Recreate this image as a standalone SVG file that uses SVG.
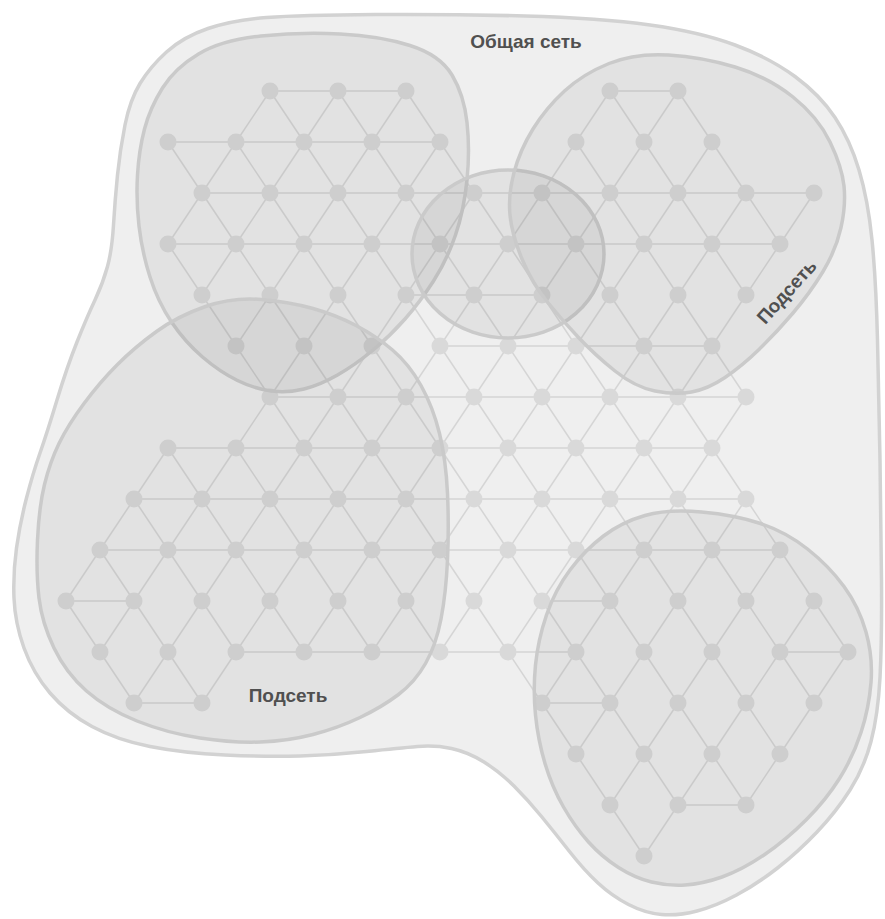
<svg xmlns="http://www.w3.org/2000/svg" width="885" height="919" viewBox="0 0 885 919">
<style>
.outer{fill:#efefef;stroke:#d2d2d2;stroke-width:3.5}
.sub{fill:#474747;fill-opacity:0.08;stroke:#cacaca;stroke-width:3.5}
.edge{fill:none;stroke:#d5d5d5;stroke-width:1.5;stroke-linejoin:round}
.dot{fill:#d9d9d9}
.lbl{font-family:"Liberation Sans",Arial,sans-serif;font-weight:700;font-size:19px;fill:#505050}
</style>
<rect width="885" height="919" fill="#ffffff"/>
<g id="general-network">
<path class="outer" d="M266.5 17.5Q300 15 375 14.5Q450 14 525 16Q600 18 650 25Q700 32 735 45Q770 58 795 76.5Q820 95 835 117.5Q850 140 859 170Q868 200 872 240Q876 280 877.5 340Q879 400 880 460Q881 520 881.5 580Q882 640 880 677.5Q878 715 871 741.5Q864 768 850 790Q836 812 817 832Q798 852 777.5 868Q757 884 736.5 895Q716 906 697 911Q678 916 661.5 914.5Q645 913 628.5 904.5Q612 896 598 883Q584 870 569.5 851.5Q555 833 541.5 816.5Q528 800 514 786Q500 772 484 762Q468 752 451.5 748.5Q435 745 417.5 746.5Q400 748 366.5 751.5Q333 755 300 756Q267 757 225 755Q183 753 150 746.5Q117 740 92 726.5Q67 713 50 693Q33 673 24 648Q15 623 14 598Q13 573 16.5 548Q20 523 26.5 498Q33 473 40 453Q47 433 57 400Q67 367 77 342Q87 317 95 300Q103 283 107.5 266.5Q112 250 113.5 225Q115 200 117.5 175Q120 150 125 125Q130 100 140 83.5Q150 67 166.5 52Q183 37 208 28.5Q233 20 266.5 17.5Z"/>
</g>
<g id="connectors">
<path class="edge" d="M270 91H406M610 91H678M168 142H440M202 193H814M168 244H780M406 295H542M440 346H712M270 397H746M168 448H712M134 499H746M100 550H780M66 601H134M542 601H610M236 652H576M780 652H848M134 703H202M542 703H610M678 805H746"/>
<path class="edge" d="M236 142l34-51 34 51M304 142l34-51 34 51M372 142l34-51 34 51M576 142l34-51 34 51M644 142l34-51 34 51
M168 142l34 51M202 193l34-51 34 51M270 193l34-51 34 51M338 193l34-51 34 51M406 193l34-51 34 51M542 193l34-51 34 51M610 193l34-51 34 51M678 193l34-51 34 51
M168 244l34-51 34 51M236 244l34-51 34 51M304 244l34-51 34 51M372 244l34-51 34 51M440 244l34-51 34 51M508 244l34-51 34 51M576 244l34-51 34 51M644 244l34-51 34 51M712 244l34-51 34 51M814 193l-34 51
M168 244l34 51M202 295l34-51 34 51M270 295l34-51 34 51M338 295l34-51 34 51M406 295l34-51 34 51M474 295l34-51 34 51M542 295l34-51 34 51M610 295l34-51 34 51M678 295l34-51 34 51M780 244l-34 51
M202 295l34 51M236 346l34-51 34 51M304 346l34-51 34 51M372 346l34-51 34 51M440 346l34-51 34 51M508 346l34-51 34 51M576 346l34-51 34 51M644 346l34-51 34 51M746 295l-34 51
M236 346l34 51M270 397l34-51 34 51M338 397l34-51 34 51M406 397l34-51 34 51M474 397l34-51 34 51M542 397l34-51 34 51M610 397l34-51 34 51M678 397l34-51 34 51
M236 448l34-51 34 51M304 448l34-51 34 51M372 448l34-51 34 51M440 448l34-51 34 51M508 448l34-51 34 51M576 448l34-51 34 51M644 448l34-51 34 51M746 397l-34 51
M134 499l34-51 34 51M202 499l34-51 34 51M270 499l34-51 34 51M338 499l34-51 34 51M406 499l34-51 34 51M474 499l34-51 34 51M542 499l34-51 34 51M610 499l34-51 34 51M678 499l34-51 34 51
M100 550l34-51 34 51M168 550l34-51 34 51M236 550l34-51 34 51M304 550l34-51 34 51M372 550l34-51 34 51M440 550l34-51 34 51M508 550l34-51 34 51M576 550l34-51 34 51M644 550l34-51 34 51M712 550l34-51 34 51
M66 601l34-51 34 51M134 601l34-51 34 51M202 601l34-51 34 51M270 601l34-51 34 51M338 601l34-51 34 51M406 601l34-51 34 51M474 601l34-51 34 51M542 601l34-51 34 51M610 601l34-51 34 51M678 601l34-51 34 51M746 601l34-51 34 51
M66 601l34 51M100 652l34-51 34 51M168 652l34-51 34 51M236 652l34-51 34 51M304 652l34-51 34 51M372 652l34-51 34 51M440 652l34-51 34 51M508 652l34-51 34 51M576 652l34-51 34 51M644 652l34-51 34 51M712 652l34-51 34 51M780 652l34-51 34 51
M100 652l34 51M134 703l34-51 34 51M236 652l-34 51M508 652l34 51M542 703l34-51 34 51M610 703l34-51 34 51M678 703l34-51 34 51M746 703l34-51 34 51M848 652l-34 51
M542 703l34 51M576 754l34-51 34 51M644 754l34-51 34 51M712 754l34-51 34 51M814 703l-34 51
M576 754l34 51M610 805l34-51 34 51M678 805l34-51 34 51M780 754l-34 51
M610 805l34 51M678 805l-34 51"/>
</g>
<g id="lattice-nodes" class="dot">
<circle cx="270" cy="91" r="8.5"/><circle cx="338" cy="91" r="8.5"/><circle cx="406" cy="91" r="8.5"/><circle cx="610" cy="91" r="8.5"/><circle cx="678" cy="91" r="8.5"/>
<circle cx="168" cy="142" r="8.5"/><circle cx="236" cy="142" r="8.5"/><circle cx="304" cy="142" r="8.5"/><circle cx="372" cy="142" r="8.5"/><circle cx="440" cy="142" r="8.5"/><circle cx="576" cy="142" r="8.5"/><circle cx="644" cy="142" r="8.5"/><circle cx="712" cy="142" r="8.5"/>
<circle cx="202" cy="193" r="8.5"/><circle cx="270" cy="193" r="8.5"/><circle cx="338" cy="193" r="8.5"/><circle cx="406" cy="193" r="8.5"/><circle cx="474" cy="193" r="8.5"/><circle cx="542" cy="193" r="8.5"/><circle cx="610" cy="193" r="8.5"/><circle cx="678" cy="193" r="8.5"/><circle cx="746" cy="193" r="8.5"/><circle cx="814" cy="193" r="8.5"/>
<circle cx="168" cy="244" r="8.5"/><circle cx="236" cy="244" r="8.5"/><circle cx="304" cy="244" r="8.5"/><circle cx="372" cy="244" r="8.5"/><circle cx="440" cy="244" r="8.5"/><circle cx="508" cy="244" r="8.5"/><circle cx="576" cy="244" r="8.5"/><circle cx="644" cy="244" r="8.5"/><circle cx="712" cy="244" r="8.5"/><circle cx="780" cy="244" r="8.5"/>
<circle cx="202" cy="295" r="8.5"/><circle cx="270" cy="295" r="8.5"/><circle cx="338" cy="295" r="8.5"/><circle cx="406" cy="295" r="8.5"/><circle cx="474" cy="295" r="8.5"/><circle cx="542" cy="295" r="8.5"/><circle cx="610" cy="295" r="8.5"/><circle cx="678" cy="295" r="8.5"/><circle cx="746" cy="295" r="8.5"/>
<circle cx="236" cy="346" r="8.5"/><circle cx="304" cy="346" r="8.5"/><circle cx="372" cy="346" r="8.5"/><circle cx="440" cy="346" r="8.5"/><circle cx="508" cy="346" r="8.5"/><circle cx="576" cy="346" r="8.5"/><circle cx="644" cy="346" r="8.5"/><circle cx="712" cy="346" r="8.5"/>
<circle cx="270" cy="397" r="8.5"/><circle cx="338" cy="397" r="8.5"/><circle cx="406" cy="397" r="8.5"/><circle cx="474" cy="397" r="8.5"/><circle cx="542" cy="397" r="8.5"/><circle cx="610" cy="397" r="8.5"/><circle cx="678" cy="397" r="8.5"/><circle cx="746" cy="397" r="8.5"/>
<circle cx="168" cy="448" r="8.5"/><circle cx="236" cy="448" r="8.5"/><circle cx="304" cy="448" r="8.5"/><circle cx="372" cy="448" r="8.5"/><circle cx="440" cy="448" r="8.5"/><circle cx="508" cy="448" r="8.5"/><circle cx="576" cy="448" r="8.5"/><circle cx="644" cy="448" r="8.5"/><circle cx="712" cy="448" r="8.5"/>
<circle cx="134" cy="499" r="8.5"/><circle cx="202" cy="499" r="8.5"/><circle cx="270" cy="499" r="8.5"/><circle cx="338" cy="499" r="8.5"/><circle cx="406" cy="499" r="8.5"/><circle cx="474" cy="499" r="8.5"/><circle cx="542" cy="499" r="8.5"/><circle cx="610" cy="499" r="8.5"/><circle cx="678" cy="499" r="8.5"/><circle cx="746" cy="499" r="8.5"/>
<circle cx="100" cy="550" r="8.5"/><circle cx="168" cy="550" r="8.5"/><circle cx="236" cy="550" r="8.5"/><circle cx="304" cy="550" r="8.5"/><circle cx="372" cy="550" r="8.5"/><circle cx="440" cy="550" r="8.5"/><circle cx="508" cy="550" r="8.5"/><circle cx="576" cy="550" r="8.5"/><circle cx="644" cy="550" r="8.5"/><circle cx="712" cy="550" r="8.5"/><circle cx="780" cy="550" r="8.5"/>
<circle cx="66" cy="601" r="8.5"/><circle cx="134" cy="601" r="8.5"/><circle cx="202" cy="601" r="8.5"/><circle cx="270" cy="601" r="8.5"/><circle cx="338" cy="601" r="8.5"/><circle cx="406" cy="601" r="8.5"/><circle cx="474" cy="601" r="8.5"/><circle cx="542" cy="601" r="8.5"/><circle cx="610" cy="601" r="8.5"/><circle cx="678" cy="601" r="8.5"/><circle cx="746" cy="601" r="8.5"/><circle cx="814" cy="601" r="8.5"/>
<circle cx="100" cy="652" r="8.5"/><circle cx="168" cy="652" r="8.5"/><circle cx="236" cy="652" r="8.5"/><circle cx="304" cy="652" r="8.5"/><circle cx="372" cy="652" r="8.5"/><circle cx="440" cy="652" r="8.5"/><circle cx="508" cy="652" r="8.5"/><circle cx="576" cy="652" r="8.5"/><circle cx="644" cy="652" r="8.5"/><circle cx="712" cy="652" r="8.5"/><circle cx="780" cy="652" r="8.5"/><circle cx="848" cy="652" r="8.5"/>
<circle cx="134" cy="703" r="8.5"/><circle cx="202" cy="703" r="8.5"/><circle cx="542" cy="703" r="8.5"/><circle cx="610" cy="703" r="8.5"/><circle cx="678" cy="703" r="8.5"/><circle cx="746" cy="703" r="8.5"/><circle cx="814" cy="703" r="8.5"/>
<circle cx="576" cy="754" r="8.5"/><circle cx="644" cy="754" r="8.5"/><circle cx="712" cy="754" r="8.5"/><circle cx="780" cy="754" r="8.5"/>
<circle cx="610" cy="805" r="8.5"/><circle cx="678" cy="805" r="8.5"/><circle cx="746" cy="805" r="8.5"/>
<circle cx="644" cy="856" r="8.5"/>
</g>
<g id="subnet-top-left">
<path class="sub" d="M261 36Q300 32 340 34Q380 36 410 45.5Q440 55 452 75Q464 95 467 122.5Q470 150 467 180Q464 210 455.5 235Q447 260 433.5 281Q420 302 405 319Q390 336 372.5 350.5Q355 365 337.5 375Q320 385 304 389Q288 393 271.5 391Q255 389 237.5 380.5Q220 372 202.5 357Q185 342 171.5 322Q158 302 150 277Q142 252 139 226Q136 200 137.5 175Q139 150 144.5 129Q150 108 162.5 88Q175 68 198.5 54Q222 40 261 36Z"/>
</g>
<g id="subnet-bottom-left">
<path class="sub" d="M205.5 306.5Q233 297 261.5 299.5Q290 302 313 308.5Q336 315 356 325.5Q376 336 392.5 350Q409 364 421 385.5Q433 407 439.5 433.5Q446 460 447.5 493.5Q449 527 447.5 560Q446 593 441 619Q436 645 425.5 663.5Q415 682 398.5 694.5Q382 707 360 717.5Q338 728 313 734.5Q288 741 260.5 742Q233 743 200 738Q167 733 137 721Q107 709 86.5 691Q66 673 54 648Q42 623 39 598Q36 573 37.5 540Q39 507 44.5 484.5Q50 462 59 443.5Q68 425 84 403.5Q100 382 117.5 364.5Q135 347 156.5 331.5Q178 316 205.5 306.5Z"/>
</g>
<g id="subnet-middle">
<ellipse class="sub" cx="508" cy="254" rx="96" ry="84"/>
</g>
<g id="subnet-top-right">
<path class="sub" d="M609 63.5Q635 53 668.5 55Q702 57 735 67Q768 77 793 97Q818 117 830 142Q842 167 844 186Q846 205 841 227.5Q836 250 823 271.5Q810 293 793 313Q776 333 759 349.5Q742 366 725 377.5Q708 389 691.5 392Q675 395 655 391Q635 387 615 371Q595 355 578.5 337.5Q562 320 547 301.5Q532 283 522 259Q512 235 510 215Q508 195 514 172.5Q520 150 533 129Q546 108 564.5 91Q583 74 609 63.5Z"/>
</g>
<g id="subnet-bottom-right">
<path class="sub" d="M645 515.5Q668 509 701.5 512Q735 515 760.5 523.5Q786 532 807.5 549Q829 566 844 586.5Q859 607 866 632Q873 657 871 682.5Q869 708 861 732.5Q853 757 839.5 778.5Q826 800 806 820Q786 840 764 855Q742 870 722 877Q702 884 685 885Q668 886 651.5 882Q635 878 618.5 867.5Q602 857 588.5 842Q575 827 563.5 807Q552 787 545 763.5Q538 740 535.5 715Q533 690 535.5 665Q538 640 546.5 615Q555 590 570 570Q585 550 603.5 536Q622 522 645 515.5Z"/>
</g>
<g id="labels">
<text class="lbl" x="526" y="48" text-anchor="middle">Общая сеть</text>
<text class="lbl" x="288" y="702" text-anchor="middle">Подсеть</text>
<text class="lbl" transform="translate(787 292) rotate(-48)" y="6" text-anchor="middle">Подсеть</text>
</g>
</svg>
